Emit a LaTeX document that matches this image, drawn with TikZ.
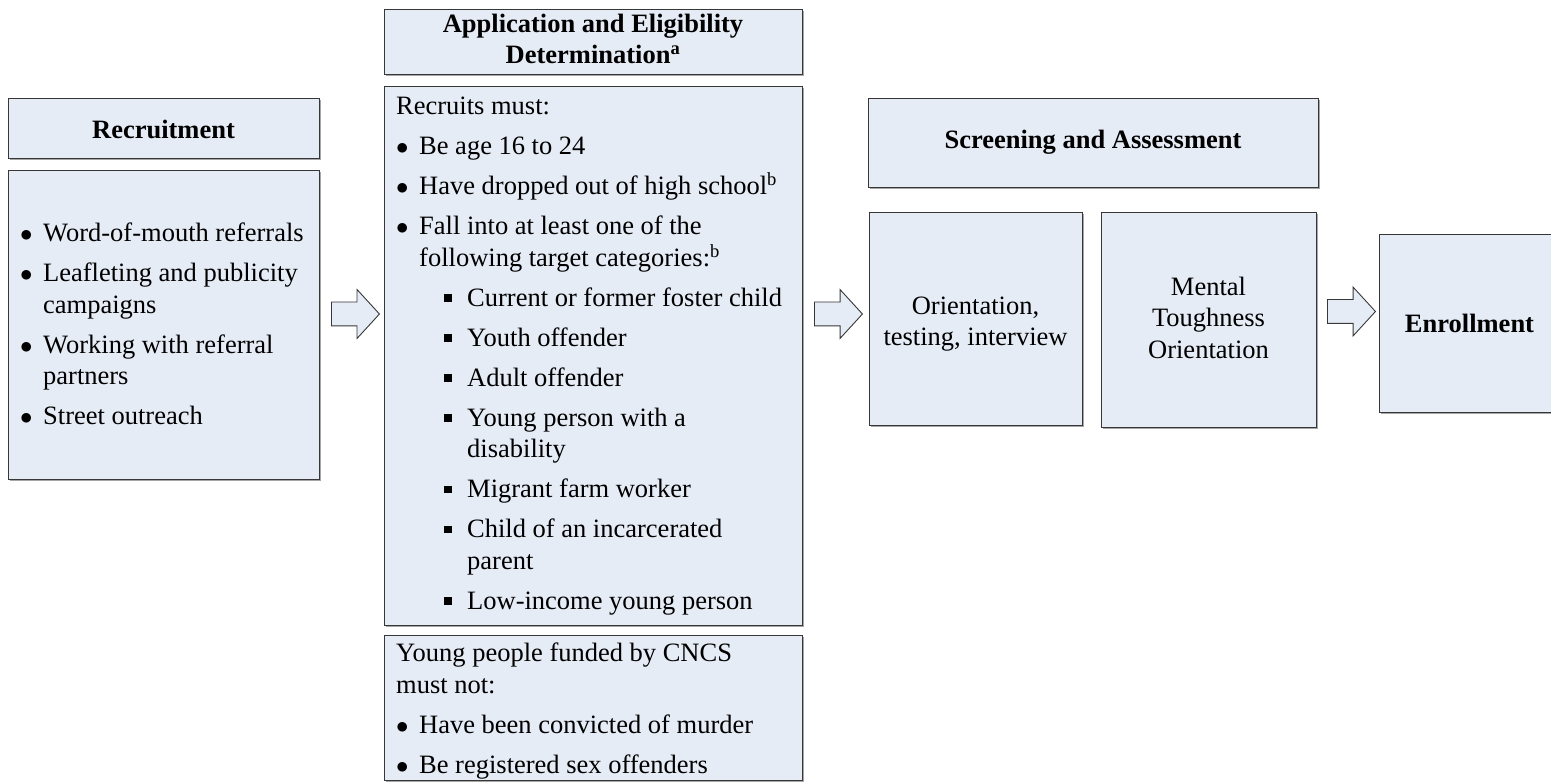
\documentclass[tikz,border=0pt]{standalone}
\usepackage{fontspec}
\setmainfont{Liberation Serif}
\usetikzlibrary{shapes.arrows,shadows}
\definecolor{boxfill}{RGB}{230,236,246}
\definecolor{boxline}{RGB}{55,55,55}
\newcommand\bul[1]{\par\hangindent=23pt\hangafter=1\noindent\strut\makebox[23pt][l]{$\bullet$}#1\par}
\newcommand\sqb[1]{\par\hangindent=71pt\hangafter=1\noindent\strut\hspace*{48pt}\makebox[23pt][l]{\raisebox{4.5pt}{\rule{7.5pt}{7.5pt}}}#1\par}
\newcommand\plainline[1]{\par\noindent\strut#1\par}
\begin{document}
\begin{tikzpicture}[x=1pt,y=-1pt,
  every node/.style={font=\fontsize{26.5}{31.5}\selectfont},
  box/.style={draw=boxline, fill=boxfill, line width=1.2pt, inner sep=0pt, anchor=north west,
    drop shadow={shadow xshift=1pt, shadow yshift=-1pt, opacity=0.35, fill=black}},
  listtext/.style={inner sep=0pt, anchor=north west, text width=#1,
    execute at begin node={\setlength\parskip{8.5pt}\setlength\parindent{0pt}\raggedright\spaceskip=6.6pt\xspaceskip=6.6pt\hbadness=10000}},
  ctext/.style={inner sep=0pt, align=center},
  blockarrow/.style={single arrow, draw=boxline, fill=boxfill, line width=0.9pt,
    inner xsep=0pt, inner ysep=11.5pt, anchor=tail,
    minimum height=48pt, minimum width=48pt, single arrow head extend=12.5pt,
    single arrow tip angle=95}
]
\useasboundingbox (0,0) rectangle (1551,783);

% Recruitment column
\node[box, minimum width=311pt, minimum height=60pt] (rhead) at (8,98) {};
\node[ctext, font=\fontsize{26.5}{31.5}\selectfont\bfseries] (rheadtxt) at (163.5,129.5) {Recruitment};
\node[box, minimum width=311pt, minimum height=309pt] (rbody) at (8,170) {};
\node[listtext=297pt] (rbodytxt) at (20,201.45) {%
\bul{Word-of-mouth referrals}
\bul{Leafleting and publicity\newline campaigns}
\bul{Working with referral\newline partners}
\bul{Street outreach}};

% Application column
\node[box, minimum width=418pt, minimum height=65pt] (ahead) at (384,9) {};
\node[ctext, font=\fontsize{26.5}{31.5}\selectfont\bfseries] (aheadtxt) at (593,39) {Application and Eligibility\\Determination\textsuperscript{a}};
\node[box, minimum width=418pt, minimum height=539pt] (abody) at (384,86) {};
\node[listtext=400pt] (abodytxt) at (396,74.45) {%
\plainline{Recruits must:}
\bul{Be age 16 to 24}
\bul{Have dropped out of high school\textsuperscript{b}}
\bul{Fall into at least one of the\newline following target categories:\textsuperscript{b}}
\sqb{Current or former foster child}
\sqb{Youth offender}
\sqb{Adult offender}
\sqb{Young person with a\newline disability}
\sqb{Migrant farm worker}
\sqb{Child of an incarcerated\newline parent}
\sqb{Low-income young person}};
\node[box, minimum width=418pt, minimum height=145pt] (abody2) at (384,635) {};
\node[listtext=400pt] (abody2txt) at (396,621.45) {%
\plainline{Young people funded by CNCS\newline must not:}
\bul{Have been convicted of murder}
\bul{Be registered sex offenders}};

% Screening and Assessment
\node[box, minimum width=450pt, minimum height=89pt] (shead) at (868,98) {};
\node[ctext, font=\fontsize{26.5}{31.5}\selectfont\bfseries] (sheadtxt) at (1093,142) {Screening and Assessment};
\node[box, minimum width=213pt, minimum height=213pt] (orient) at (869,212) {};
\node[ctext] (orienttxt) at (975.5,324) {Orientation,\\testing, interview};
\node[box, minimum width=215pt, minimum height=215pt] (mental) at (1101,212) {};
\node[ctext] (mentaltxt) at (1208.5,317.5) {Mental\\Toughness\\Orientation};

% Enrollment
\node[box, minimum width=181pt, minimum height=178pt] (enroll) at (1379,234) {};
\node[ctext, font=\fontsize{26.5}{31.5}\selectfont\bfseries] (enrolltxt) at (1469.5,323) {Enrollment};

% Block arrows
\node[blockarrow] (ar1) at (331,314) {};
\node[blockarrow] (ar2) at (814,314) {};
\node[blockarrow] (ar3) at (1327,311.5) {};
\end{tikzpicture}
\end{document}
